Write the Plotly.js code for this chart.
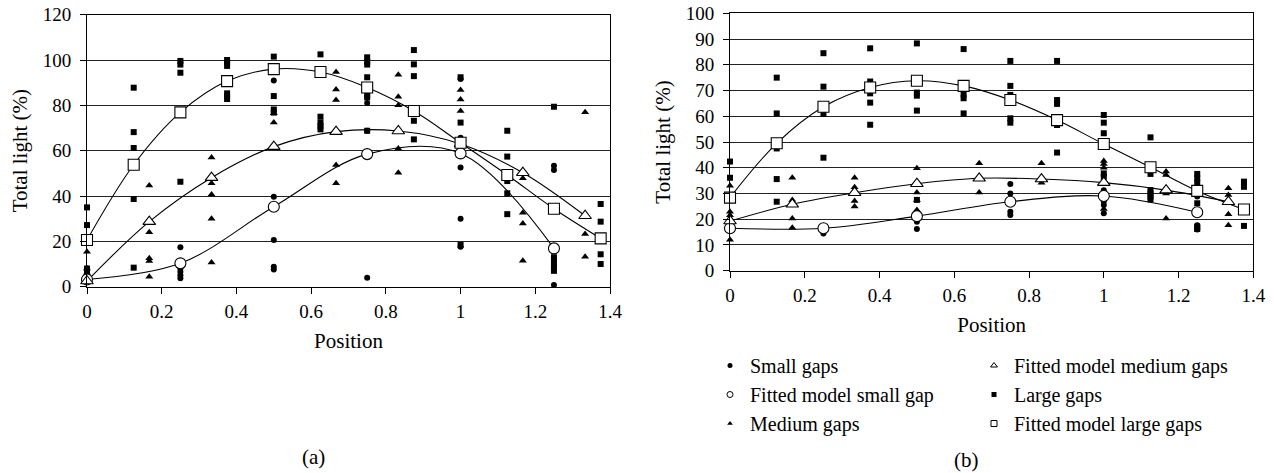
<!DOCTYPE html>
<html>
<head>
<meta charset="utf-8">
<script src="https://cdn.plot.ly/plotly-3.0.1.min.js"></script>
<style>
html,body{margin:0;padding:0;background:#fff}
#chart{width:1274px;height:473px}
#chart svg text{font-family:'Liberation Serif','DejaVu Serif',serif !important;}
</style>
</head>
<body>
<div id="chart"></div>
<script>
// ---------- Panel (a) ----------
const aSmallPos = [0, 0.25, 0.5, 0.75, 1, 1.25];
const aSmallObs = [[8, 6.5], [17.4, 8, 6.6, 5, 3.7], [91, 39.7, 20.6, 8.8, 7.6], [81, 68.8, 4], [91.6, 65.7, 52.6, 30, 17.6], [53.4, 51.5, 12, 9, 0.7]];
const aSmallFit = [3.2, 10.3, 35.3, 58.5, 58.8, 16.9];

const aMedPos = [0, 1/6, 1/3, 0.5, 2/3, 5/6, 1, 7/6, 4/3];
const aMedObs = [[15.4, 8, 6], [44.6, 24, 12.5, 11.3, 4.4], [57, 45.6, 40.7, 30, 10.7], [76.5, 72.4], [94.7, 87, 82.4, 53.7, 45.6], [93.5, 83.8, 80, 61, 50.3], [86.8, 82.6, 77.5, 65], [47.8, 32.6, 27.9, 11.5], [77, 23.2, 13.2]];
const aMedFit = [2.5, 28.7, 48.1, 61.8, 68.4, 68.7, 63, 50.3, 31.3];

const aLargePos = [0, 0.125, 0.25, 0.375, 0.5, 0.625, 0.75, 0.875, 1, 1.125, 1.25, 1.375];
const aLargeObs = [[35, 27.2, 8, 6], [87.8, 68.2, 61.2, 38.7, 8.4], [99.6, 98, 94.4, 46.3], [100, 98.8, 97.4, 85.3, 84, 82.8], [101.5, 84.1, 78.2, 76.8], [102.5, 75, 72.4, 70.9, 69.4], [101.2, 99.3, 98, 92.4, 84.6, 83.5, 68.8], [104.4, 98.1, 92.9, 73.2, 65], [92.4, 72.4, 64, 18.4], [68.8, 57.4, 46.6, 41.2, 32], [79.4, 13, 10.5, 8.5, 7], [36.5, 28.7, 14.3, 10]];
const aLargeFit = [20.6, 53.8, 76.9, 90.7, 96, 94.7, 87.9, 77.5, 63.5, 49.3, 34.4, 21.3];

// ---------- Panel (b) ----------
const bSmallPos = [0, 0.25, 0.5, 0.75, 1, 1.25];
const bSmallObs = [[17.5, 15.5], [17.4, 14.5], [22.3, 19, 16.2], [33.7, 30, 22.9, 21.6], [31.3, 27, 25.5, 22.3], [28.8, 17.7, 16]];
const bSmallFit = [16.5, 16.5, 21.2, 26.8, 29, 22.7];

const bMedPos = [0, 1/6, 1/3, 0.5, 2/3, 5/6, 1, 7/6, 4/3];
const bMedObs = [[33, 22.9, 21.5, 12], [36.1, 27.5, 20.3, 16.7], [36.1, 32.4, 27.1, 24.9], [39.8, 30.4, 27.5, 23.6], [41.7, 30.4], [41.7, 34.2], [42.6, 41.5, 40, 24], [38.5, 37.2, 30, 20.3], [32, 29.4, 21.9, 17.7]];
const bMedFit = [19.3, 25.8, 30.3, 33.8, 35.9, 35.6, 34.2, 31.3, 26.8];

const bLargePos = [0, 0.125, 0.25, 0.375, 0.5, 0.625, 0.75, 0.875, 1, 1.125, 1.25, 1.375];
const bLargeObs = [[42.4, 36.1, 27.5], [75, 61.1, 47.5, 35.6, 26.8], [84.5, 71.5, 60.9, 43.9], [86.4, 73.5, 68.9, 65.3, 56.7], [88.3, 69.2, 68, 62.2, 27.5], [86.1, 68.5, 67, 61.1], [81.5, 71.8, 68.3, 59.2, 57.5], [81.5, 66.3, 64.8, 56.6, 45.9], [60.5, 57.5, 53.4, 37.8, 36.5], [51.8, 37.6, 31.3, 30, 28.8, 27.7], [37.6, 35.9, 34.2, 26.2, 17.1, 16.2], [34.6, 32.6, 17.4]];
const bLargeFit = [28.4, 49.5, 63.7, 71.2, 73.8, 71.8, 66.3, 58.5, 49.2, 40.2, 31, 23.8];

const legendNames = ['Small gaps', 'Fitted model small gap', 'Medium gaps', 'Fitted model medium gaps', 'Large gaps', 'Fitted model large gaps'];
const xTitle = 'Position';
const yTitle = 'Total light (%)';
const panelLabels = ['(a)', '(b)'];

// ---------- helpers ----------
function flat(pos, obs) {
  const xs = [], ys = [];
  pos.forEach((p, i) => obs[i].forEach(v => { xs.push(p); ys.push(v); }));
  return {x: xs, y: ys};
}
const FONT = 'Liberation Serif';
const FS = 21;      // titles, panel labels
const FL = 20;      // legend
const FT = 19;      // tick labels
const SYM = {small: 'circle', med: 'triangle-up', large: 'square'};
const filledSize = {small: 6, med: 7, large: 6};

function panelTraces(xa, ya, sets) {
  const traces = [];
  sets.forEach(s => {
    const f = flat(s.pos, s.obs);
    traces.push({
      type: 'scatter', mode: 'markers', x: f.x, y: f.y, xaxis: xa, yaxis: ya,
      showlegend: false, cliponaxis: false,
      marker: {symbol: SYM[s.key], size: filledSize[s.key], color: '#000'},
      hoverinfo: 'x+y'
    });
  });
  sets.forEach(s => {
    traces.push({
      type: 'scatter', mode: 'lines', x: s.pos, y: s.fit, xaxis: xa, yaxis: ya,
      showlegend: false, cliponaxis: false,
      line: {color: '#000', width: 1.1, shape: 'spline', smoothing: 1},
      hoverinfo: 'skip'
    });
  });
  sets.forEach(s => {
    traces.push({
      type: 'scatter', mode: 'markers', x: s.pos, y: s.fit, xaxis: xa, yaxis: ya,
      showlegend: false, cliponaxis: false,
      marker: {symbol: SYM[s.key], size: 11, color: '#fff', line: {color: '#000', width: 1.1}},
      hoverinfo: 'x+y'
    });
  });
  return traces;
}

const aSets = [
  {key: 'small', pos: aSmallPos, obs: aSmallObs, fit: aSmallFit},
  {key: 'med', pos: aMedPos, obs: aMedObs, fit: aMedFit},
  {key: 'large', pos: aLargePos, obs: aLargeObs, fit: aLargeFit}
];
const bSets = [
  {key: 'small', pos: bSmallPos, obs: bSmallObs, fit: bSmallFit},
  {key: 'med', pos: bMedPos, obs: bMedObs, fit: bMedFit},
  {key: 'large', pos: bLargePos, obs: bLargeObs, fit: bLargeFit}
];

let traces = panelTraces('x', 'y', aSets).concat(panelTraces('x2', 'y2', bSets));

// legend-only entries (small symbols as in the original key)
const keyOrder = ['small', 'small', 'med', 'med', 'large', 'large'];
legendNames.forEach((nm, i) => {
  const filled = i % 2 === 0;
  traces.push({
    type: 'scatter', mode: 'markers', x: [null], y: [null], xaxis: 'x2', yaxis: 'y2',
    name: nm, showlegend: true, legend: i < 3 ? 'legend' : 'legend2', legendrank: i + 1,
    marker: filled ? {symbol: SYM[keyOrder[i]], size: 5, color: '#000'}
                   : {symbol: SYM[keyOrder[i]], size: 6, color: '#fff', line: {color: '#000', width: 1}}
  });
});

const W = 1274, H = 473;
const px = v => v / W, py = v => 1 - v / H;

const tickFont = {family: FONT, size: FT, color: '#000'};
const titleFont = {family: FONT, size: FS, color: '#000'};
function xAxis(d0, d1, anchor, standoff) {
  return {domain: [px(d0), px(d1)], range: [0, 1.4], dtick: 0.2, tick0: 0, anchor: anchor,
    ticks: 'outside', ticklen: 6, tickwidth: 1, tickcolor: '#000', showline: true, linecolor: '#000', linewidth: 1,
    mirror: true, showgrid: false, zeroline: false, tickfont: tickFont, automargin: false, fixedrange: true,
    ticklabelstandoff: 1,
    title: {text: xTitle, font: titleFont, standoff: standoff}};
}
function yAxis(top, bottom, max, dtick, anchor) {
  return {domain: [py(bottom), py(top)], range: [0, max], dtick: dtick, tick0: 0, anchor: anchor,
    ticks: 'outside', ticklen: 6, tickwidth: 1, tickcolor: '#000', showline: true, linecolor: '#000', linewidth: 1,
    mirror: true, showgrid: true, gridcolor: '#222', gridwidth: 1, zeroline: false, tickfont: tickFont,
    automargin: false, fixedrange: true, ticklabelstandoff: 5,
    title: {text: yTitle, font: titleFont, standoff: 9}};
}

const legendCommon = {font: {family: FONT, size: FL, color: '#000'}, bgcolor: 'rgba(0,0,0,0)', borderwidth: 0,
  orientation: 'v', xanchor: 'left', yanchor: 'top', tracegroupgap: 0, itemclick: false, itemdoubleclick: false,
  traceorder: 'normal'};

const layout = {
  width: W, height: H,
  margin: {l: 0, r: 0, t: 0, b: 0},
  paper_bgcolor: '#fff', plot_bgcolor: '#fff',
  font: {family: FONT, size: FS, color: '#000'},
  xaxis: xAxis(87, 610, 'y', 12),
  yaxis: yAxis(14.7, 286.7, 120, 20, 'x'),
  xaxis2: xAxis(730, 1253.3, 'y2', 12),
  yaxis2: yAxis(13.3, 270.7, 100, 10, 'x2'),
  legend: Object.assign({}, legendCommon, {x: px(710), y: py(346)}),
  legend2: Object.assign({}, legendCommon, {x: px(974), y: py(346)}),
  showlegend: true,
  annotations: [
    {text: panelLabels[0], xref: 'paper', yref: 'paper', x: px(313), y: py(457), xanchor: 'center', yanchor: 'middle',
      showarrow: false, font: {family: FONT, size: FS, color: '#000'}},
    {text: panelLabels[1], xref: 'paper', yref: 'paper', x: px(966), y: py(460), xanchor: 'center', yanchor: 'middle',
      showarrow: false, font: {family: FONT, size: FS, color: '#000'}}
  ]
};

Plotly.newPlot('chart', traces, layout, {displayModeBar: false});
</script>
</body>
</html>
